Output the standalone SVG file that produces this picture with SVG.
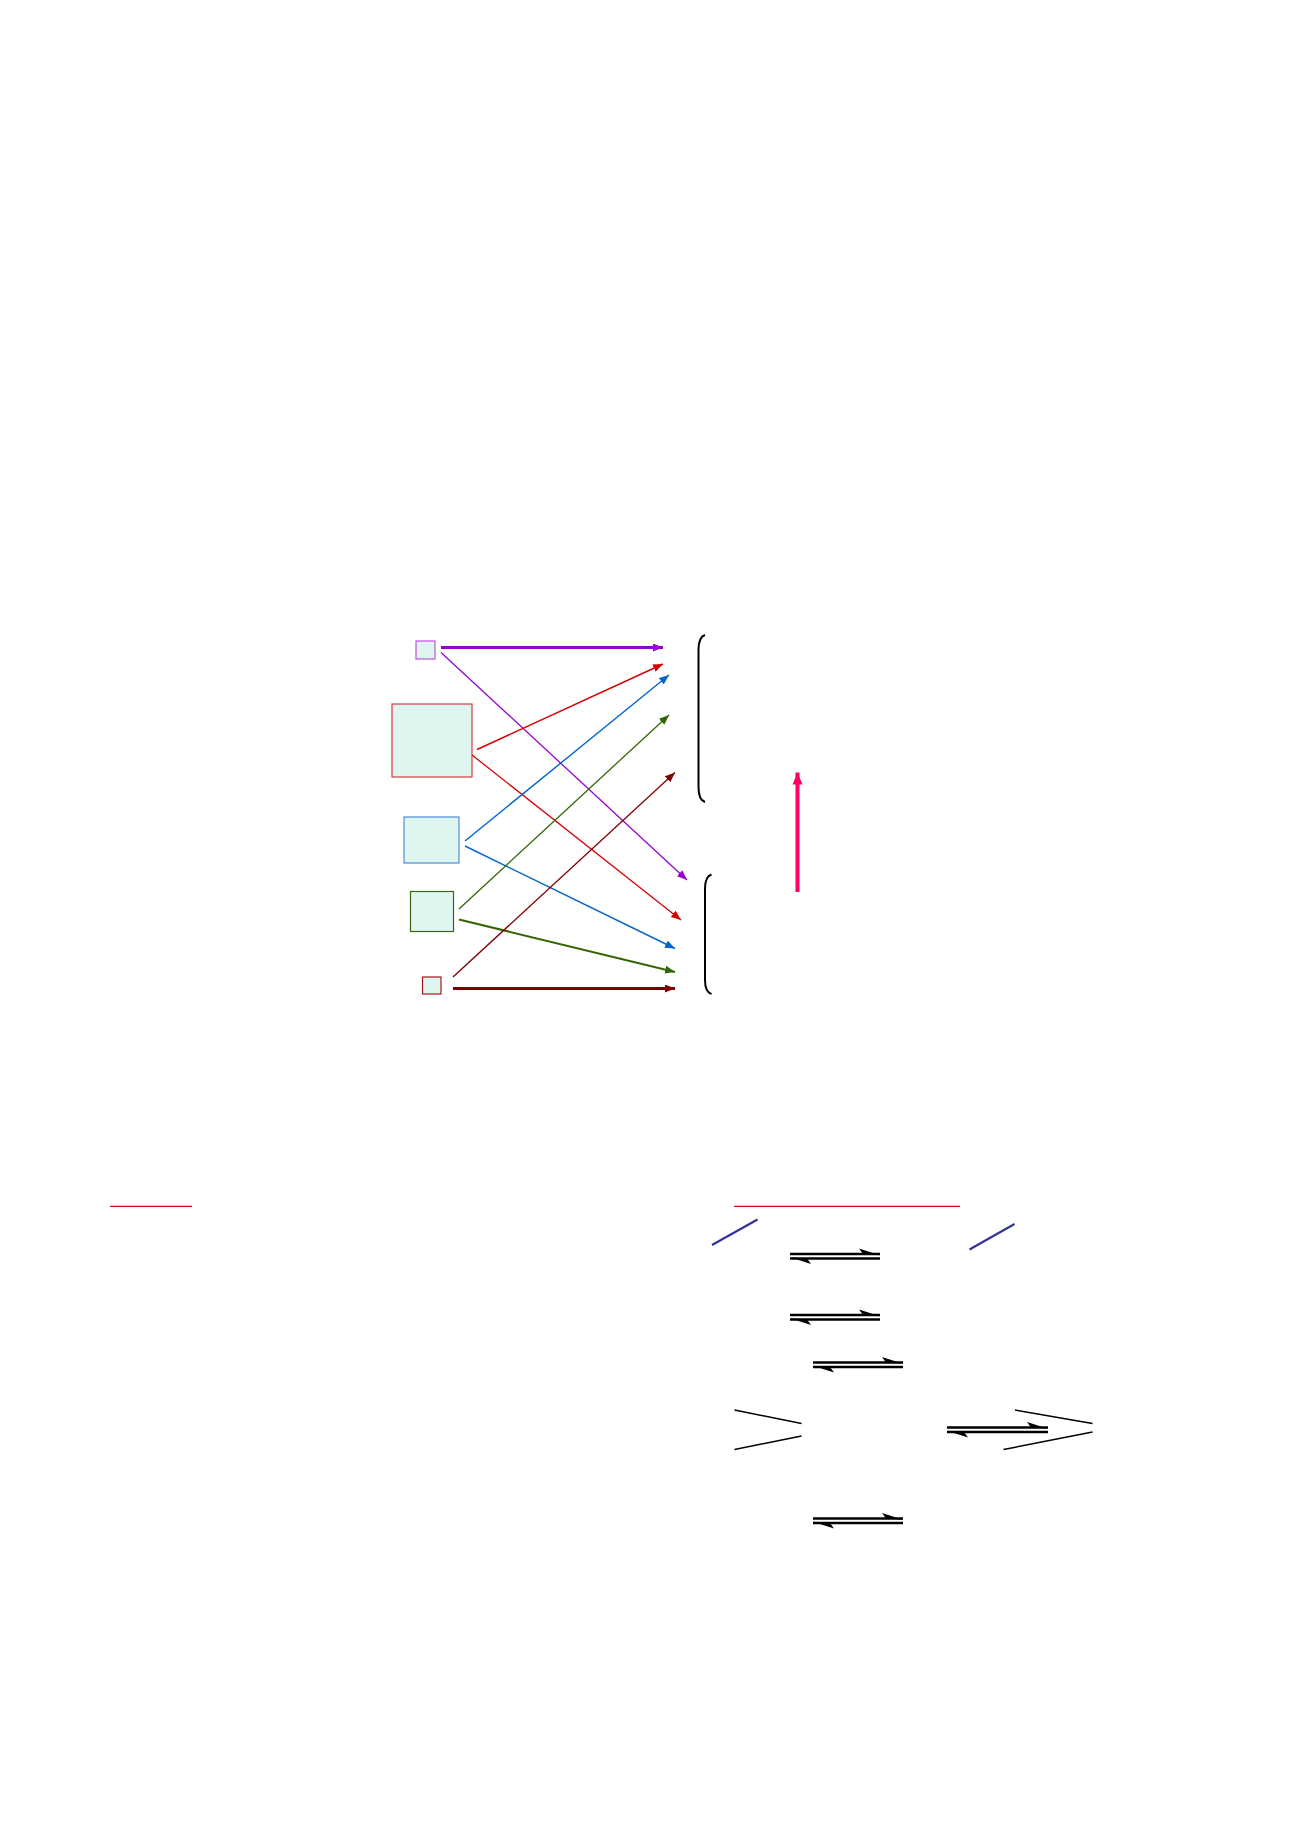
<svg xmlns="http://www.w3.org/2000/svg" width="1300" height="1841" viewBox="0 0 1300 1841">
<style>
.box{fill:#dff5ef;stroke-width:1.2}
.blk{stroke:#000;stroke-width:2;fill:none}
.eq{stroke:#000;stroke-width:2.6;fill:none}
.hd{fill:#000}
</style>
<defs>
<marker id="aPu" viewBox="0 0 10 8" refX="10" refY="4" markerWidth="10" markerHeight="8" markerUnits="userSpaceOnUse" orient="auto"><path d="M0,0 L10,4 L0,8 Z" fill="#9900cc"/></marker>
<marker id="aRe" viewBox="0 0 10 8" refX="10" refY="4" markerWidth="10" markerHeight="8" markerUnits="userSpaceOnUse" orient="auto"><path d="M0,0 L10,4 L0,8 Z" fill="#d40000"/></marker>
<marker id="aBl" viewBox="0 0 10 8" refX="10" refY="4" markerWidth="10" markerHeight="8" markerUnits="userSpaceOnUse" orient="auto"><path d="M0,0 L10,4 L0,8 Z" fill="#0066cc"/></marker>
<marker id="aGr" viewBox="0 0 10 8" refX="10" refY="4" markerWidth="10" markerHeight="8" markerUnits="userSpaceOnUse" orient="auto"><path d="M0,0 L10,4 L0,8 Z" fill="#336600"/></marker>
<marker id="aDr" viewBox="0 0 10 8" refX="10" refY="4" markerWidth="10" markerHeight="8" markerUnits="userSpaceOnUse" orient="auto"><path d="M0,0 L10,4 L0,8 Z" fill="#800000"/></marker>
<marker id="aPk" viewBox="0 0 12 10" refX="12" refY="5" markerWidth="12" markerHeight="11" markerUnits="userSpaceOnUse" orient="auto"><path d="M0,0 L12,5 L0,10 Z" fill="#ff0066"/></marker>
</defs>
<rect width="1300" height="1841" fill="#fff"/>

<g id="node-purple"><rect class="box" x="416" y="641" width="19" height="18" stroke="#c050e0"/></g>
<g id="node-red"><rect class="box" x="392" y="704" width="80" height="73" stroke="#d43c3c"/></g>
<g id="node-blue"><rect class="box" x="404" y="817" width="55" height="46" stroke="#4a90d9"/></g>
<g id="node-green"><rect class="box" x="410.5" y="891.5" width="43" height="40" stroke="#3a6a10"/></g>
<g id="node-darkred"><rect class="box" x="422.5" y="977" width="18.5" height="17" stroke="#a01818"/></g>

<g id="connectors">
<line x1="441" y1="647.5" x2="663" y2="647.5" stroke="#9900cc" stroke-width="2.8" marker-end="url(#aPu)"/>
<line x1="441" y1="652.5" x2="687" y2="880" stroke="#9900cc" stroke-width="1.3" marker-end="url(#aPu)"/>
<line x1="477" y1="749.5" x2="663" y2="664" stroke="#d40000" stroke-width="1.5" marker-end="url(#aRe)"/>
<line x1="472" y1="755" x2="681" y2="920" stroke="#d40000" stroke-width="1.3" marker-end="url(#aRe)"/>
<line x1="465" y1="841" x2="669" y2="675" stroke="#0066cc" stroke-width="1.4" marker-end="url(#aBl)"/>
<line x1="465" y1="846" x2="675" y2="948.5" stroke="#0066cc" stroke-width="1.5" marker-end="url(#aBl)"/>
<line x1="459" y1="909" x2="669" y2="715" stroke="#336600" stroke-width="1.3" marker-end="url(#aGr)"/>
<line x1="459" y1="919.5" x2="675" y2="972" stroke="#336600" stroke-width="2" marker-end="url(#aGr)"/>
<line x1="453" y1="977" x2="675" y2="772.5" stroke="#800000" stroke-width="1.3" marker-end="url(#aDr)"/>
<line x1="453" y1="988.5" x2="675" y2="988.5" stroke="#800000" stroke-width="2.8" marker-end="url(#aDr)"/>
<line x1="797.5" y1="892" x2="797.5" y2="772.5" stroke="#ff0066" stroke-width="4" marker-end="url(#aPk)"/>
</g>

<g id="brackets">
<path class="blk" d="M705,635 Q698.5,637 698.5,650 L698.5,787 Q698.5,800 705,802"/>
<path class="blk" d="M711.5,874.5 Q705,876.5 705,889 L705,980 Q705,992 711.5,994"/>
</g>

<g id="lines">
<line x1="110" y1="1206.3" x2="192" y2="1206.3" stroke="#dd0000" stroke-width="1.3"/>
<line x1="734" y1="1206.3" x2="960" y2="1206.3" stroke="#dd0000" stroke-width="1.3"/>
<line x1="712" y1="1245" x2="757.5" y2="1219.5" stroke="#333399" stroke-width="2.2"/>
<line x1="969.5" y1="1249.5" x2="1014.5" y2="1224" stroke="#333399" stroke-width="2.2"/>
<line x1="734.5" y1="1410" x2="801.5" y2="1423.5" stroke="#000" stroke-width="1.5"/>
<line x1="734.5" y1="1449.5" x2="801.5" y2="1436" stroke="#000" stroke-width="1.5"/>
<line x1="1015" y1="1410" x2="1092.5" y2="1423.5" stroke="#000" stroke-width="1.5"/>
<line x1="1003.5" y1="1449.5" x2="1092.5" y2="1432" stroke="#000" stroke-width="1.5"/>
</g>

<g id="equilibria">
<g transform="translate(790,1254)">
<line class="eq" x1="0" y1="0" x2="90" y2="0"/><polygon class="hd" points="90,1.2 69,-5.5 73,0"/>
<line class="eq" x1="0" y1="4.5" x2="90" y2="4.5"/><polygon class="hd" points="0,3.3 21,10 17,4.5"/>
</g>
<g transform="translate(790,1315)">
<line class="eq" x1="0" y1="0" x2="90" y2="0"/><polygon class="hd" points="90,1.2 69,-5.5 73,0"/>
<line class="eq" x1="0" y1="4.5" x2="90" y2="4.5"/><polygon class="hd" points="0,3.3 21,10 17,4.5"/>
</g>
<g transform="translate(813,1362.5)">
<line class="eq" x1="0" y1="0" x2="90" y2="0"/><polygon class="hd" points="90,1.2 69,-5.5 73,0"/>
<line class="eq" x1="0" y1="4.5" x2="90" y2="4.5"/><polygon class="hd" points="0,3.3 21,10 17,4.5"/>
</g>
<g transform="translate(947,1427.5)">
<line class="eq" x1="0" y1="0" x2="101" y2="0"/><polygon class="hd" points="101,1.2 80,-5.5 84,0"/>
<line class="eq" x1="0" y1="4.5" x2="101" y2="4.5"/><polygon class="hd" points="0,3.3 21,10 17,4.5"/>
</g>
<g transform="translate(813,1518.5)">
<line class="eq" x1="0" y1="0" x2="90" y2="0"/><polygon class="hd" points="90,1.2 69,-5.5 73,0"/>
<line class="eq" x1="0" y1="4.5" x2="90" y2="4.5"/><polygon class="hd" points="0,3.3 21,10 17,4.5"/>
</g>
</g>
</svg>
